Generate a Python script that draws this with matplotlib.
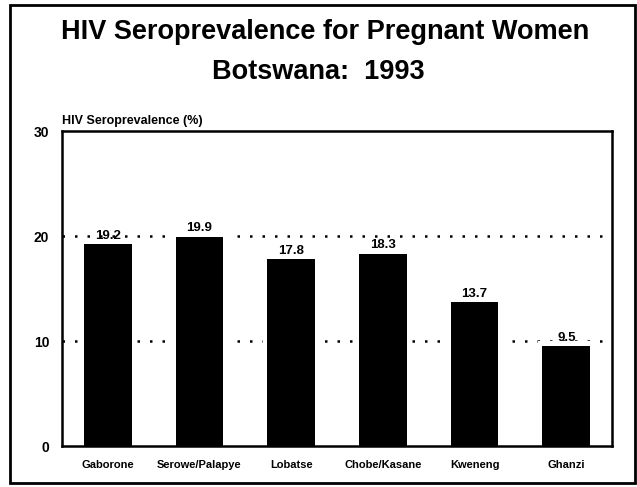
import matplotlib
matplotlib.use("Agg")
import matplotlib.pyplot as plt
from matplotlib.patches import Rectangle

# Daten
regionen = ["Gaborone", "Serowe/Palapye", "Lobatse", "Chobe/Kasane", "Kweneng", "Ghanzi"]
werte = [19.2, 19.9, 17.8, 18.3, 13.7, 9.5]
y_ticks = [0, 10, 20, 30]

plt.rcParams['font.family'] = ['Liberation Sans', 'DejaVu Sans']
plt.rcParams['font.weight'] = 'bold'

fig = plt.figure(figsize=(6.37, 4.87), dpi=100)
ax = fig.add_axes([0.097, 0.084, 0.864, 0.647])

# Gitterlinien hinter den Balken
for y in [10, 20]:
    ax.axhline(y, color='black', linestyle=(0, (1, 4)), linewidth=1.8, zorder=1)

x = list(range(len(regionen)))
# weisser Rand um die Balken (unterbricht die Gitterlinien)
ax.bar(x, [w + 0.5 for w in werte], width=0.62, color='white', zorder=2)
ax.bar(x, werte, width=0.52, color='black', zorder=3)

for xi, w in zip(x, werte):
    ax.text(xi, w + 0.25, f"{w:.1f}", ha='center', va='bottom', fontsize=9.5,
            fontweight='bold', zorder=4)

ax.set_xlim(-0.5, len(regionen) - 0.5)
ax.set_ylim(0, 30)
ax.set_yticks(y_ticks)
ax.set_yticklabels([str(t) for t in y_ticks], fontsize=10, fontweight='bold')
ax.set_xticks(x)
ax.set_xticklabels(regionen, fontsize=8, fontweight='bold')
ax.tick_params(length=0, pad=10)
ax.tick_params(axis='y', pad=9)
for s in ax.spines.values():
    s.set_linewidth(1.8)
    s.set_zorder(5)

ax.text(0.0, 1.012, "HIV Seroprevalence (%)", transform=ax.transAxes,
        fontsize=9, fontweight='bold', ha='left', va='bottom')

# Titel
fig.text(0.51, 0.935, "HIV Seroprevalence for Pregnant Women", ha='center', va='center',
         fontsize=19.5, fontweight='bold')
fig.text(0.5, 0.852, "Botswana:  1993", ha='center', va='center',
         fontsize=19.5, fontweight='bold')

# Rahmen um alles
fig.patches.append(Rectangle((0.015, 0.008), 0.982, 0.982, transform=fig.transFigure,
                             fill=False, edgecolor='black', linewidth=2))

plt.savefig("out.png", dpi=100)
